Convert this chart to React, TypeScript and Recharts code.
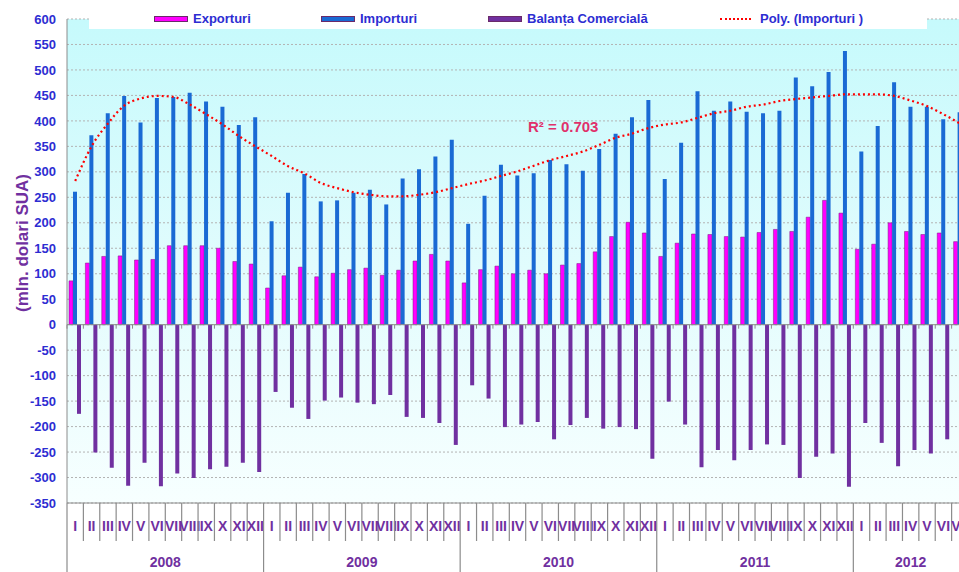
import React from "react";
import {
  ComposedChart,
  Bar,
  Line,
  XAxis,
  YAxis,
  CartesianGrid,
  ReferenceLine,
} from "recharts";

const years = ["2008", "2009", "2010", "2011", "2012"];
const monthsInYear = [12, 12, 12, 12, 7];
const monthNames = ["I", "II", "III", "IV", "V", "VI", "VII", "VIII", "IX", "X", "XI", "XII"];

// mln. dolari SUA, lunar
const exportValues = [
  86, 121, 134, 135, 127, 128, 155, 155, 155, 150, 124, 119,
  72, 96, 113, 94, 101, 108, 111, 97, 107, 125, 138, 125,
  82, 108, 115, 100, 107, 100, 117, 120, 143, 173, 201, 180,
  134, 160, 178, 177, 173, 172, 181, 187, 183, 211, 244, 219,
  148, 158, 200, 183, 177, 180, 163,
];
const importValues = [
  261, 372, 415, 449, 397, 445, 447, 455, 438, 428, 392, 407,
  203, 259, 296, 242, 244, 259, 265, 236, 287, 305, 330, 363,
  198, 253, 314, 293, 297, 323, 315, 302, 345, 375, 407, 441,
  286, 357, 458, 420, 438, 418, 415, 420, 485, 468, 496, 537,
  340, 390, 476, 428, 428, 403, 417,
];
const balanceValues = [
  -175, -251, -281, -316, -271, -317, -292, -301, -284, -279, -271, -289,
  -132, -163, -185, -149, -143, -153, -156, -138, -181, -183, -193, -236,
  -119, -145, -201, -196, -191, -225, -197, -183, -204, -201, -205, -263,
  -151, -196, -280, -246, -266, -246, -235, -236, -301, -259, -253, -318,
  -193, -232, -278, -246, -253, -225, -254,
];
const trendValues = [
  282, 350, 395, 430, 444, 449, 447, 432, 413, 393, 370, 350,
  331, 311, 297, 278, 268, 260, 255, 252, 252, 255, 260, 268,
  276, 283, 292, 301, 312, 323, 331, 340, 353, 367, 375, 386,
  393, 397, 406, 415, 420, 428, 432, 439, 443, 446, 449, 452,
  452, 452, 449, 440, 429, 413, 395,
];

const yTicks = [600, 550, 500, 450, 400, 350, 300, 250, 200, 150, 100, 50, 0, -50, -100, -150, -200, -250, -300, -350];

type Row = {
  key: string;
  year: string;
  month: string;
  monthIdx: number;
  yearLen: number;
  exp: number;
  imp: number;
  bal: number;
  trend: number;
};

const data: Row[] = [];
{
  let k = 0;
  years.forEach((y, yi) => {
    for (let m = 0; m < monthsInYear[yi]; m++) {
      data.push({
        key: y + "-" + monthNames[m],
        year: y,
        month: monthNames[m],
        monthIdx: m,
        yearLen: monthsInYear[yi],
        exp: exportValues[k],
        imp: importValues[k],
        bal: balanceValues[k],
        trend: trendValues[k],
      });
      k++;
    }
  });
}

const CHART_W = 975;
const CHART_H = 572;
const TOP = 19;
const Y_AXIS_W = 67;
const X_AXIS_H = 69;
const RIGHT = 7;
const plotBottom = CHART_H - X_AXIS_H;
const band = (CHART_W - RIGHT - Y_AXIS_W) / data.length;
const zeroY = TOP + (600 / 950) * (plotBottom - TOP);

const font = "Arial, 'Liberation Sans', sans-serif";
const purple = "#7030a0";
const tickBlue = "#2d2dd2";
const gridGray = "#8c8c8c";

const MonthTick = (props: any) => {
  const { x, index } = props;
  const row = data[index];
  if (!row) return null;
  const left = x - band / 2;
  const first = row.monthIdx === 0;
  return (
    <g>
      <line x1={left} y1={plotBottom} x2={left} y2={first ? CHART_H : 541} stroke={gridGray} strokeWidth={1.2} />
      <line x1={left} y1={zeroY} x2={left} y2={zeroY + 4} stroke={gridGray} />
      <text
        x={x}
        y={526}
        textAnchor="middle"
        dominantBaseline="central"
        fill={purple}
        fontFamily={font}
        fontWeight="bold"
        fontSize={14}
      >
        {row.month}
      </text>
      {first && (
        <text
          x={left + (row.yearLen * band) / 2}
          y={562}
          textAnchor="middle"
          dominantBaseline="central"
          fill={purple}
          fontFamily={font}
          fontWeight="bold"
          fontSize={14}
        >
          {row.year}
        </text>
      )}
    </g>
  );
};

const legendItems = [
  { name: "Exporturi", color: "#ff00ff", kind: "box", x: 154, tx: 193 },
  { name: "Importuri", color: "#1a6ad4", kind: "box", x: 321, tx: 360 },
  { name: "Balanța Comercială", color: purple, kind: "box", x: 488, tx: 527 },
  { name: "Poly. (Importuri )", color: "#ff0000", kind: "dot", x: 720, tx: 760 },
];

const App = () => {
  return (
    <div
      style={{
        position: "absolute",
        left: 0,
        top: 0,
        width: 959,
        height: 572,
        overflow: "hidden",
        background: "#fff",
      }}
    >
      <ComposedChart
        width={CHART_W}
        height={CHART_H}
        data={data}
        margin={{ top: TOP, right: RIGHT, bottom: 0, left: 0 }}
        barGap={0}
      >
        <defs>
          <linearGradient id="plotBg" x1="0" y1="0" x2="0" y2="1">
            <stop offset="0%" stopColor="#c6fafc" />
            <stop offset="55%" stopColor="#e3fcfd" />
            <stop offset="100%" stopColor="#f7ffff" />
          </linearGradient>
        </defs>
        <CartesianGrid
          vertical={false}
          stroke="#b3b3b3"
          strokeDasharray="2 2"
          fill="url(#plotBg)"
          fillOpacity={1}
        />
        <XAxis
          dataKey="key"
          height={X_AXIS_H}
          interval={0}
          tickLine={false}
          axisLine={{ stroke: gridGray }}
          tick={<MonthTick />}
        />
        <YAxis
          width={Y_AXIS_W}
          domain={[-350, 600]}
          ticks={yTicks}
          interval={0}
          tickLine={false}
          tickSize={6}
          tickMargin={5}
          axisLine={{ stroke: gridGray }}
          tick={{ fill: tickBlue, fontFamily: font, fontWeight: "bold", fontSize: 13 }}
        />
        <ReferenceLine y={0} stroke={gridGray} />
        <Bar dataKey="exp" name="Exporturi" fill="#ff00ff" stroke="#7a1a7a" strokeWidth={0.5} barSize={4} isAnimationActive={false} />
        <Bar dataKey="imp" name="Importuri" fill="#1a6ad4" barSize={4} isAnimationActive={false} />
        <Bar dataKey="bal" name="Balanța Comercială" fill={purple} barSize={4} isAnimationActive={false} />
        <Line
          dataKey="trend"
          name="Poly. (Importuri )"
          type="monotone"
          stroke="#ff0000"
          strokeWidth={2.2}
          strokeDasharray="2 3"
          dot={false}
          isAnimationActive={false}
        />
      </ComposedChart>

      {/* y axis title */}
      <div
        style={{
          position: "absolute",
          left: 23,
          top: 243,
          transform: "translate(-50%, -50%) rotate(-90deg)",
          whiteSpace: "nowrap",
          color: purple,
          fontFamily: font,
          fontWeight: "bold",
          fontSize: 17,
        }}
      >
        (mln. dolari SUA)
      </div>

      {/* legend */}
      <div
        style={{
          position: "absolute",
          left: 89,
          top: 0,
          width: 838,
          height: 29,
          background: "#fff",
        }}
      >
        {legendItems.map((it) => (
          <React.Fragment key={it.name}>
            {it.kind === "box" ? (
              <div
                style={{
                  position: "absolute",
                  left: it.x - 89,
                  top: 16,
                  width: 34,
                  height: 6,
                  background: it.color,
                  border: "1px solid #6a2a6a",
                  boxSizing: "border-box",
                }}
              />
            ) : (
              <div
                style={{
                  position: "absolute",
                  left: it.x - 89,
                  top: 18,
                  width: 31,
                  height: 0,
                  borderTop: "2px dotted " + it.color,
                }}
              />
            )}
            <div
              style={{
                position: "absolute",
                left: it.tx - 89,
                top: 11,
                lineHeight: "16px",
                whiteSpace: "nowrap",
                color: tickBlue,
                fontFamily: font,
                fontWeight: "bold",
                fontSize: 13,
              }}
            >
              {it.name}
            </div>
          </React.Fragment>
        ))}
      </div>

      {/* trendline R² */}
      <div
        style={{
          position: "absolute",
          left: 528,
          top: 118,
          whiteSpace: "nowrap",
          color: "#e0306a",
          fontFamily: font,
          fontWeight: "bold",
          fontSize: 15,
          lineHeight: "18px",
        }}
      >
        R² = 0.703
      </div>
    </div>
  );
};

export default App;
